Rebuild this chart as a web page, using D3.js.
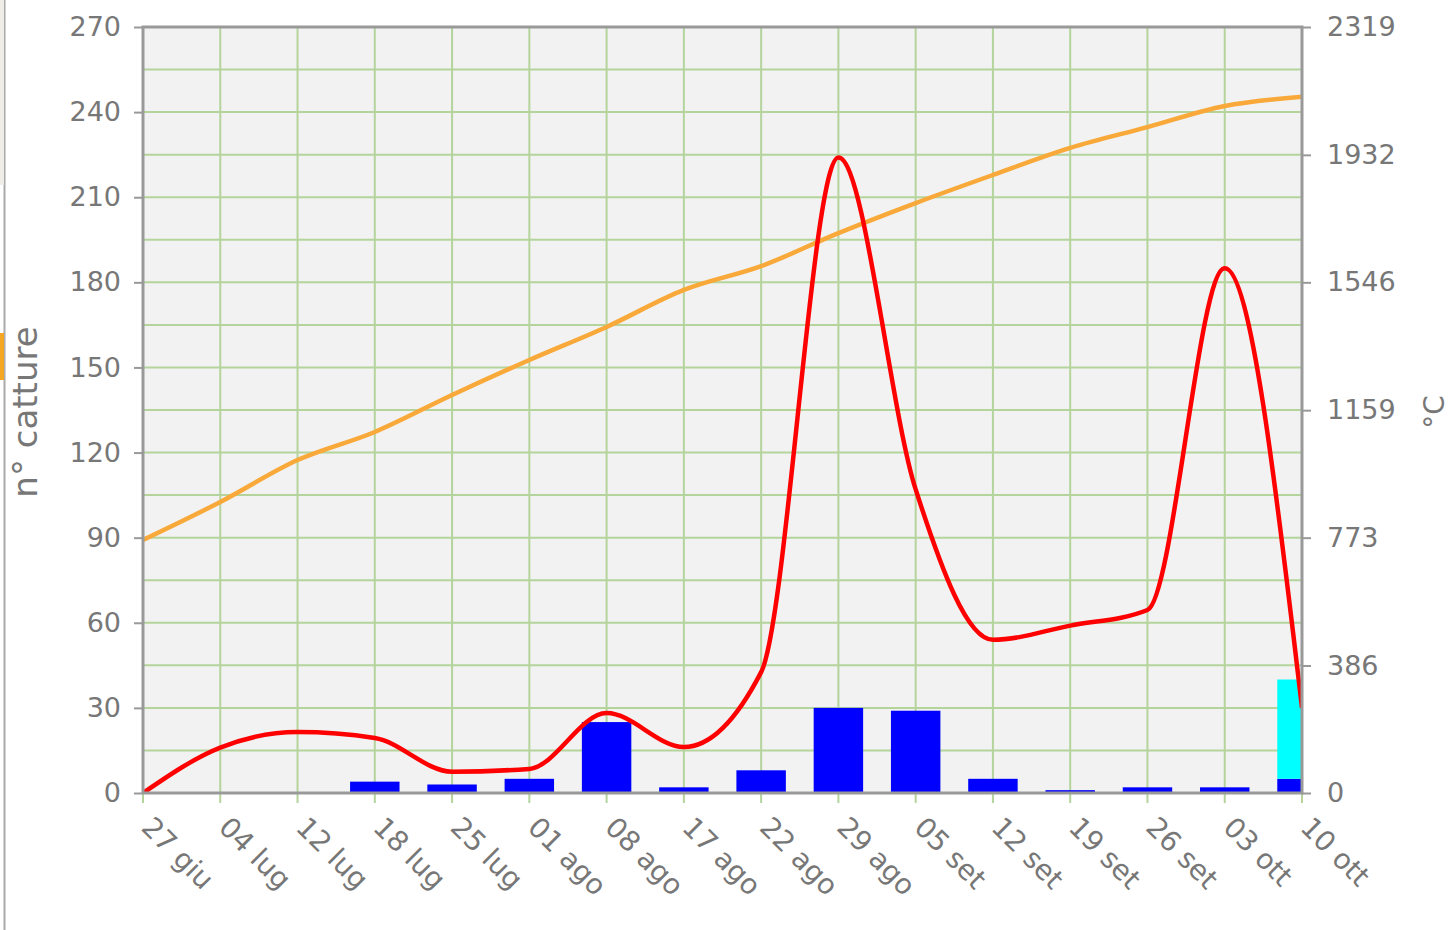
<!DOCTYPE html>
<html>
<head>
<meta charset="utf-8">
<script src="https://cdn.jsdelivr.net/npm/d3@7"></script>
<style>
  body { margin: 0; background: #fff; }
  svg text { font-family: "DejaVu Sans", sans-serif; fill: #777; }
</style>
</head>
<body>
<svg id="main-svg"></svg>
<script>
// data
var dates = ["27 giu", "04 lug", "12 lug", "18 lug", "25 lug", "01 ago", "08 ago", "17 ago",
  "22 ago", "29 ago", "05 set", "12 set", "19 set", "26 set", "03 ott", "10 ott"];
var catture = [0, 0, 0, 4, 3, 5, 25, 2, 8, 30, 29, 5, 1, 2, 2, 5];
var cattureExtra = [0, 0, 0, 0, 0, 0, 0, 0, 0, 0, 0, 0, 0, 0, 0, 35];
var media = [0, 16, 21.5, 19.4, 7.5, 8.5, 28.2, 16.2, 42.6, 224, 107, 54, 59, 64.5, 185, 30];
var gradi = [766, 881, 1008, 1093, 1205, 1311, 1411, 1523, 1595, 1695, 1786, 1871, 1953, 2016, 2080, 2108];
var leftTicks = [0, 30, 60, 90, 120, 150, 180, 210, 240, 270];
var rightTicks = [0, 386, 773, 1159, 1546, 1932, 2319];

var width = 1451,
  height = 930,
  pL = 143, pR = 1302, pT = 27, pB = 793;

var svg = d3.select("#main-svg").attr("width", width).attr("height", height);

var x = d3.scalePoint().domain(dates).range([pL, pR]);
var y = d3.scaleLinear().domain([0, 270]).range([pB, pT]);
var y2 = d3.scaleLinear().domain([0, 2319]).range([pB, pT]);
var step = x.step(), barW = step * 0.64;

// cropped neighbour element at the far left
svg.append("line").attr("x1", 4.5).attr("x2", 4.5).attr("y1", 0).attr("y2", height)
  .attr("stroke", "#aaa").attr("stroke-width", 2);
svg.append("rect").attr("x", 0).attr("y", 0).attr("width", 4).attr("height", 185).attr("fill", "#eeeee6");
svg.append("rect").attr("x", 0).attr("y", 333).attr("width", 4).attr("height", 47).attr("fill", "#f5a623");

var defs = svg.append("defs");
defs.append("clipPath").attr("id", "plot").append("rect")
  .attr("x", pL).attr("y", pT).attr("width", pR - pL).attr("height", pB - pT);
defs.append("filter").attr("id", "blur").append("feGaussianBlur").attr("stdDeviation", 2);

svg.append("rect").attr("x", pL).attr("y", pT).attr("width", pR - pL).attr("height", pB - pT)
  .attr("fill", "#f2f2f2");

// grid
var grid = svg.append("g").attr("stroke", "#b4d49c").attr("stroke-width", 2);
grid.selectAll(".v").data(dates).join("line")
  .attr("x1", function (d) { return x(d); }).attr("x2", function (d) { return x(d); })
  .attr("y1", pT).attr("y2", pB + 10);
grid.selectAll(".h").data(d3.range(15, 270, 15)).join("line")
  .attr("x1", pL).attr("x2", pR)
  .attr("y1", function (d) { return y(d); }).attr("y2", function (d) { return y(d); });

// bars
var bars = svg.append("g").attr("clip-path", "url(#plot)");
bars.selectAll(".b").data(dates).join("rect")
  .attr("x", function (d) { return x(d) - barW / 2; })
  .attr("width", barW)
  .attr("y", function (d, i) { return y(catture[i]); })
  .attr("height", function (d, i) { return pB - y(catture[i]); })
  .attr("fill", "#0000ff");
bars.selectAll(".c").data(dates).join("rect")
  .attr("x", function (d) { return x(d) - barW / 2; })
  .attr("width", barW)
  .attr("y", function (d, i) { return y(catture[i] + cattureExtra[i]); })
  .attr("height", function (d, i) { return y(catture[i]) - y(catture[i] + cattureExtra[i]); })
  .attr("fill", "#00ffff");

// lines
var lineG = svg.append("g").attr("clip-path", "url(#plot)");
lineG.append("path").datum(gradi)
  .attr("d", d3.line().x(function (d, i) { return x(dates[i]); }).y(function (d) { return y2(d); }).curve(d3.curveMonotoneX))
  .attr("fill", "none").attr("stroke", "#f8a93a").attr("stroke-width", 4.5);
lineG.append("path").datum(media)
  .attr("d", d3.line().x(function (d, i) { return x(dates[i]); }).y(function (d) { return y(d); }).curve(d3.curveMonotoneX))
  .attr("fill", "none").attr("stroke", "#ff0000").attr("stroke-width", 4.5);

// frame
svg.append("line").attr("x1", pL).attr("x2", pR + 3).attr("y1", pB + 3).attr("y2", pB + 3)
  .attr("stroke", "#bbb").attr("stroke-width", 5).attr("filter", "url(#blur)");
var frame = svg.append("g").attr("stroke", "#999").attr("stroke-width", 3).attr("fill", "none");
frame.append("path").attr("d", "M" + pL + "," + pB + "V" + pT + "H" + pR + "V" + pB + "H" + pL);

// left axis
var ya = svg.append("g").attr("transform", "translate(" + pL + ",0)")
  .call(d3.axisLeft(y).tickValues(leftTicks).tickSize(9).tickPadding(13));
ya.select(".domain").remove();
ya.selectAll(".tick line").attr("stroke", "#999").attr("stroke-width", 2);
ya.selectAll("text").style("font-size", "27px").attr("fill", "#777");

// right axis
var yb = svg.append("g").attr("transform", "translate(" + pR + ",0)")
  .call(d3.axisRight(y2).tickValues(rightTicks).tickFormat(d3.format("d")).tickSize(9).tickPadding(16));
yb.select(".domain").remove();
yb.selectAll(".tick line").attr("stroke", "#999").attr("stroke-width", 2);
yb.selectAll("text").style("font-size", "27px").attr("fill", "#777");

// x labels
svg.append("g").selectAll("text").data(dates).join("text")
  .attr("transform", function (d) { return "translate(" + (x(d) - 3) + "," + (pB + 36) + ") rotate(45)"; })
  .attr("text-anchor", "start")
  .style("font-size", "28px")
  .text(function (d) { return d; });

// axis titles
svg.append("text").attr("transform", "translate(37,412) rotate(-90)")
  .attr("text-anchor", "middle").style("font-size", "34px").text("n° catture");
svg.append("text").attr("transform", "translate(1444,412) rotate(-90)")
  .attr("text-anchor", "middle").style("font-size", "28px").text("°C");
</script>
</body>
</html>
